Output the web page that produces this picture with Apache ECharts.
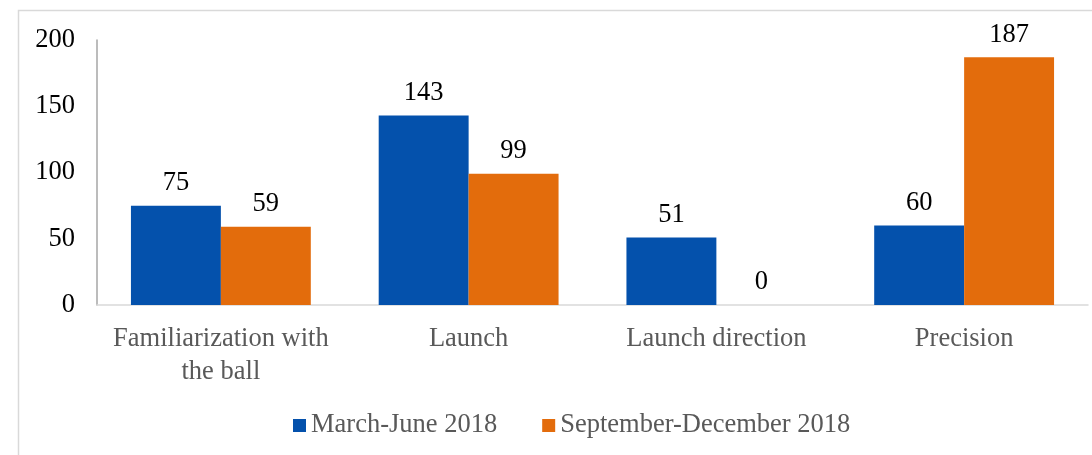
<!DOCTYPE html>
<html><head><meta charset="utf-8">
<script src="https://cdn.jsdelivr.net/npm/echarts@6/dist/echarts.min.js"></script>
<style>html,body{margin:0;padding:0;background:#fff}#c{width:1092px;height:455px}</style>
</head><body><div id="c"></div>
<script>
const categories = ['Familiarization with\nthe ball', 'Launch', 'Launch direction', 'Precision'];
const seriesNames = ['March-June 2018', 'September-December 2018'];
const marchJune = [75, 143, 51, 60];
const septDec = [59, 99, 0, 187];
const yTicks = [0, 50, 100, 150, 200];

const chart = echarts.init(document.getElementById('c'), null, {renderer: 'canvas'});
const font = 'Liberation Serif';
const fs = 26.5;
chart.setOption({
  backgroundColor: '#fff',
  animation: false,
  graphic: [{type: 'rect', shape: {x: 18.5, y: 10.5, width: 1100, height: 460}, style: {fill: 'none', stroke: '#d9d9d9', lineWidth: 1.5}}],
  legend: {
    data: seriesNames, left: 288, top: 407, itemWidth: 13, itemHeight: 13, itemGap: 45,
    icon: 'rect',
    textStyle: {fontFamily: font, fontSize: fs, color: '#595959'}
  },
  grid: {left: 97, right: 4, top: 40, bottom: 150, containLabel: false},
  xAxis: {
    type: 'category', data: categories,
    axisLine: {lineStyle: {color: '#d9d9d9', width: 1.5}},
    axisTick: {show: false},
    axisLabel: {fontFamily: font, fontSize: fs, color: '#595959', margin: 18, lineHeight: 33, interval: 0}
  },
  yAxis: {
    type: 'value', min: yTicks[0], max: yTicks[yTicks.length - 1], interval: 50,
    axisLine: {show: true, lineStyle: {color: '#a6a6a6', width: 1.5}},
    axisTick: {show: false},
    splitLine: {show: false},
    axisLabel: {fontFamily: font, fontSize: fs, color: '#000', margin: 22}
  },
  series: [
    {name: seriesNames[0], type: 'bar', data: marchJune, barGap: '0%', barCategoryGap: '27.4%',
     itemStyle: {color: '#0451AC'},
     label: {show: true, position: 'top', distance: 9, fontFamily: font, fontSize: fs, color: '#000'}},
    {name: seriesNames[1], type: 'bar', data: septDec, barGap: '0%', barCategoryGap: '27.4%',
     itemStyle: {color: '#E36C0C'},
     label: {show: true, position: 'top', distance: 9, fontFamily: font, fontSize: fs, color: '#000'}}
  ]
});
</script></body></html>
